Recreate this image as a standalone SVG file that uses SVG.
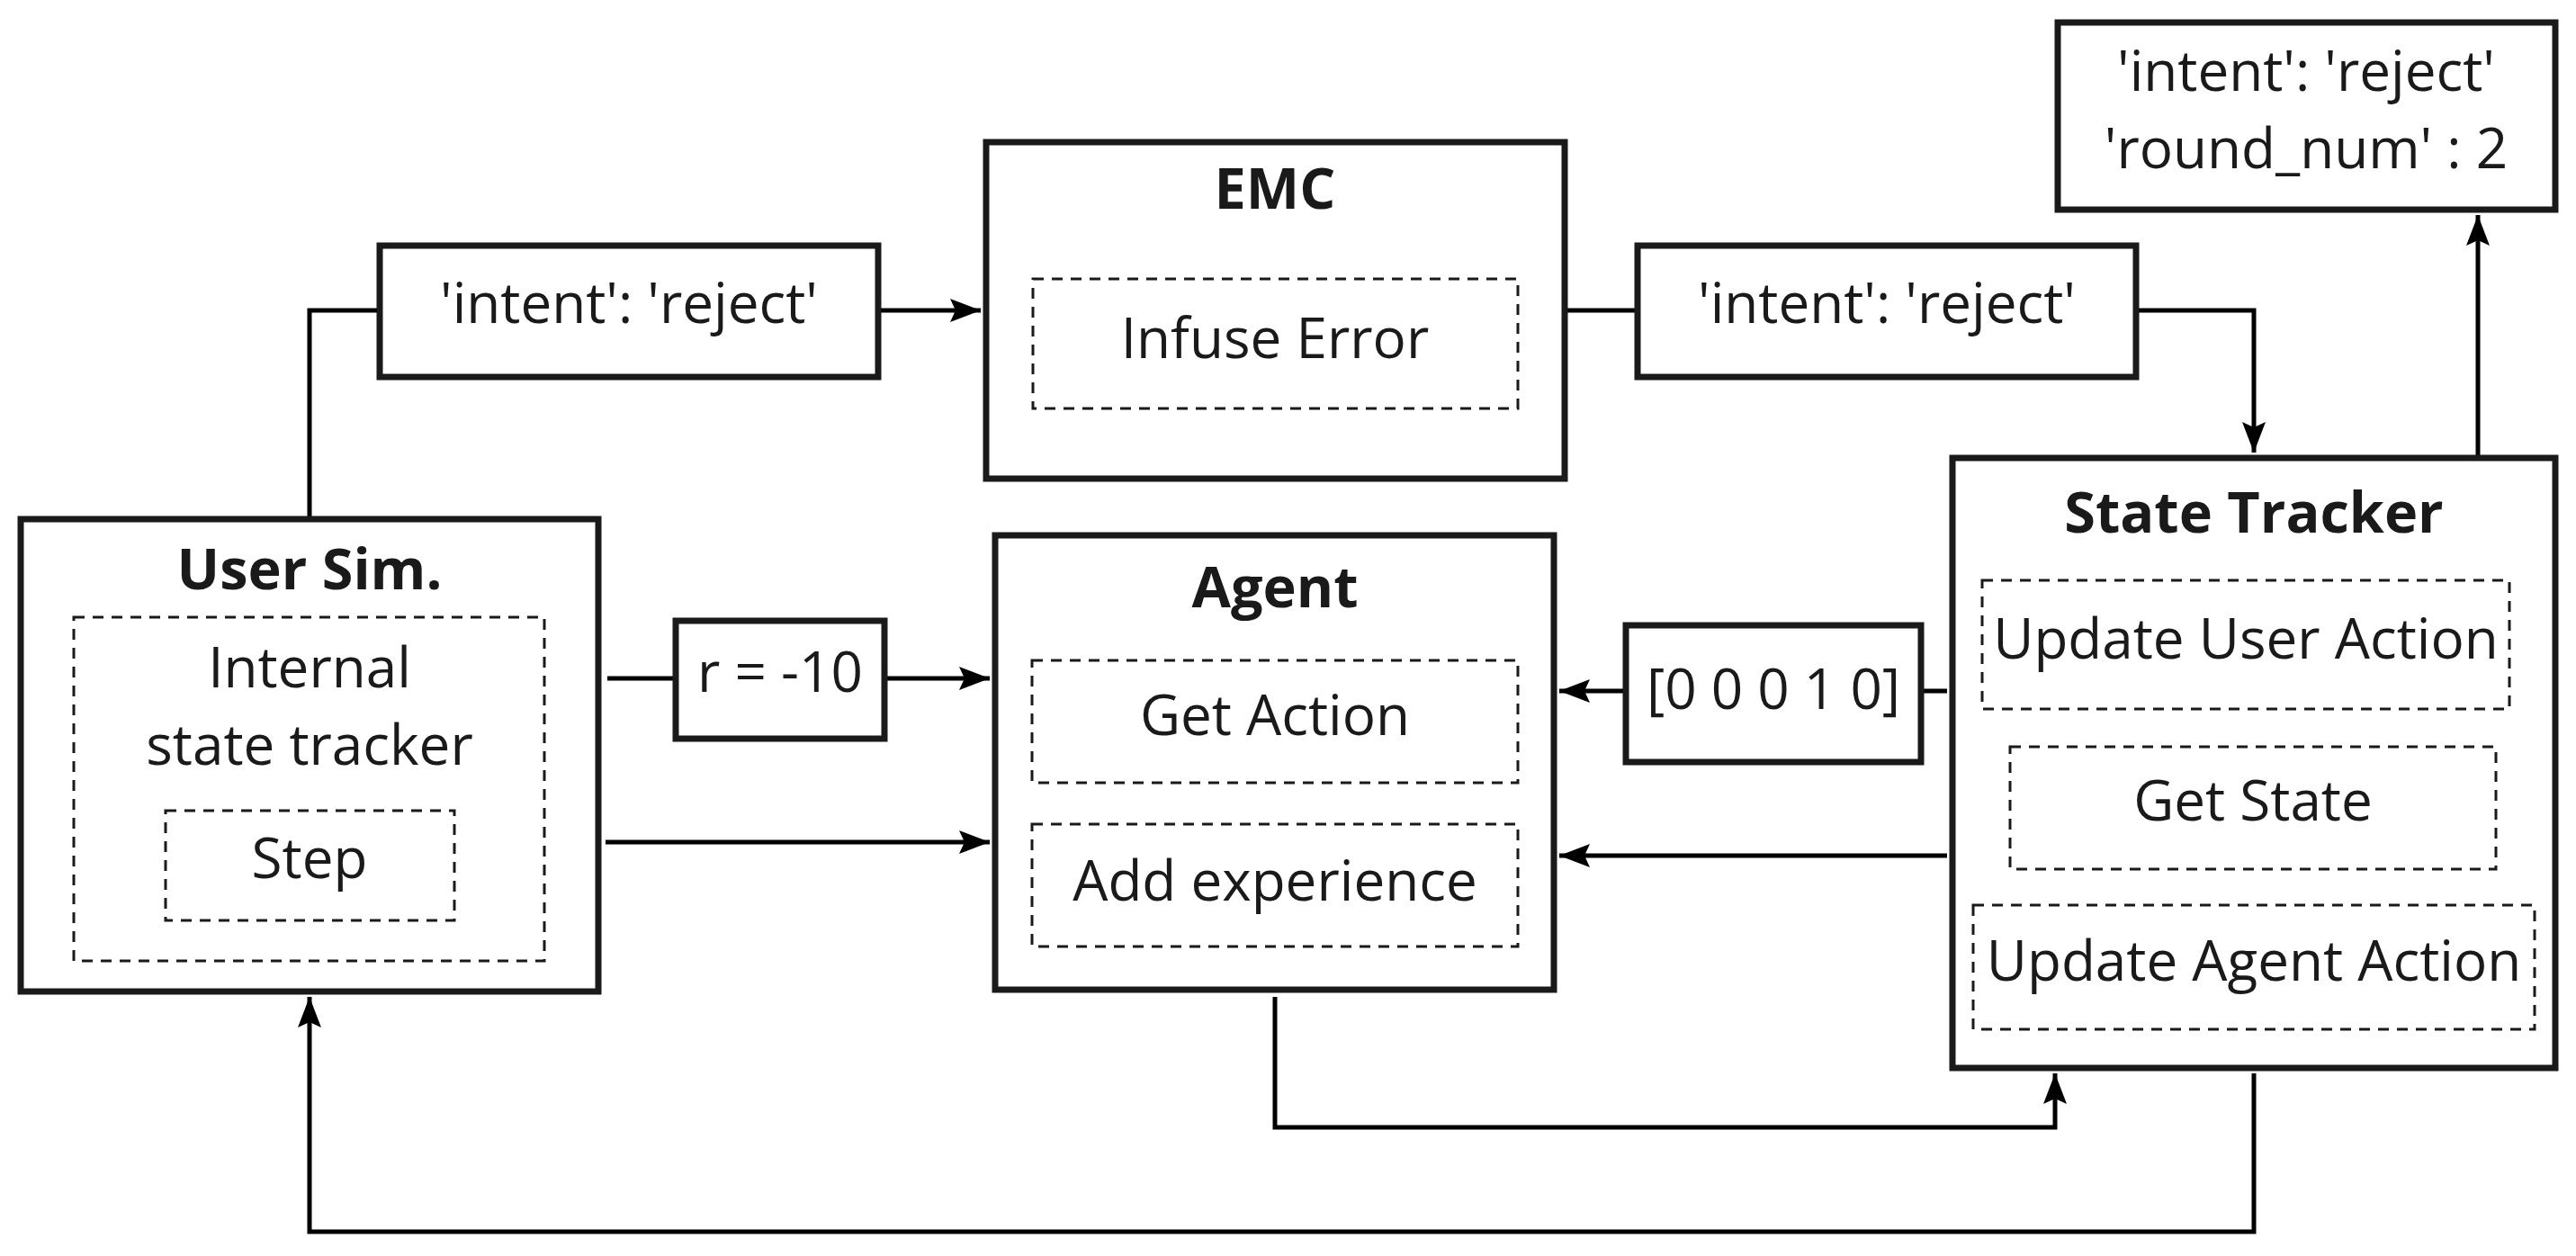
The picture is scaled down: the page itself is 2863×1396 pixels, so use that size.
<svg xmlns="http://www.w3.org/2000/svg" width="2863" height="1396" viewBox="0 0 2863 1396">
<style>
.box{fill:#fff;stroke:#1a1a1a;stroke-width:7}
.dash{fill:none;stroke:#1a1a1a;stroke-width:3;stroke-dasharray:12 9}
.conn{fill:none;stroke:#000;stroke-width:5}
text{font-family:"Open Sans","Noto Sans","DejaVu Sans",sans-serif;font-size:62px;fill:#1a1a1a;text-anchor:middle}
.title{font-weight:bold;font-size:63px}
</style>
<defs>
<marker id="arr" markerUnits="userSpaceOnUse" markerWidth="36" markerHeight="28" refX="34" refY="13" orient="auto">
<path d="M0,0 L34,13 L0,26 L6,13 z" fill="#000"/>
</marker>
</defs>
<rect width="2863" height="1396" fill="#fff"/>
<g id="connectors">
<path class="conn" d="M344,574 V345 H419"/>
<path class="conn" d="M979,345 H1090" marker-end="url(#arr)"/>
<path class="conn" d="M1742,345 H1817"/>
<path class="conn" d="M2377,345 H2505 V503" marker-end="url(#arr)"/>
<path class="conn" d="M2754,645 V239" marker-end="url(#arr)"/>
<path class="conn" d="M675,754 H748"/>
<path class="conn" d="M986,754 H1100" marker-end="url(#arr)"/>
<path class="conn" d="M673,936 H1100" marker-end="url(#arr)"/>
<path class="conn" d="M2164,768 H2138"/>
<path class="conn" d="M1804,768 H1733" marker-end="url(#arr)"/>
<path class="conn" d="M2164,951 H1733" marker-end="url(#arr)"/>
<path class="conn" d="M1417,1108 V1253 H2284 V1193" marker-end="url(#arr)"/>
<path class="conn" d="M2505,1193 V1369 H344 V1108" marker-end="url(#arr)"/>
</g>
<g id="usersim">
<rect class="box" x="23" y="577" width="642" height="525"/>
<text class="title" x="344" y="655">User Sim.</text>
<rect class="dash" x="82" y="686" width="523" height="382"/>
<text x="344" y="764">Internal</text>
<text x="344" y="850">state tracker</text>
<rect class="dash" x="184" y="901" width="321" height="122"/>
<text x="344" y="976">Step</text>
</g>
<g id="label-left">
<rect class="box" x="422" y="273" width="554" height="146"/>
<text x="699" y="359">'intent': 'reject'</text>
</g>
<g id="emc">
<rect class="box" x="1096" y="158" width="643" height="374"/>
<text class="title" x="1417" y="232">EMC</text>
<rect class="dash" x="1148" y="310" width="539" height="144"/>
<text x="1417" y="398">Infuse Error</text>
</g>
<g id="label-right">
<rect class="box" x="1820" y="273" width="554" height="146"/>
<text x="2097" y="359">'intent': 'reject'</text>
</g>
<g id="output">
<rect class="box" x="2287" y="25" width="553" height="208"/>
<text x="2563" y="101">'intent': 'reject'</text>
<text x="2563" y="187">'round_num' : 2</text>
</g>
<g id="reward">
<rect class="box" x="751" y="690" width="232" height="131"/>
<text x="867" y="769">r = -10</text>
</g>
<g id="agent">
<rect class="box" x="1106" y="595" width="621" height="505"/>
<text class="title" x="1417" y="675">Agent</text>
<rect class="dash" x="1147" y="734" width="540" height="136"/>
<text x="1417" y="817">Get Action</text>
<rect class="dash" x="1147" y="916" width="540" height="136"/>
<text x="1417" y="1001">Add experience</text>
</g>
<g id="state-vector">
<rect class="box" x="1807" y="695" width="328" height="152"/>
<text x="1971" y="788">[0 0 0 1 0]</text>
</g>
<g id="statetracker">
<rect class="box" x="2170" y="509" width="670" height="678"/>
<text class="title" x="2505" y="592">State Tracker</text>
<rect class="dash" x="2203" y="645" width="586" height="143"/>
<text x="2496" y="732">Update User Action</text>
<rect class="dash" x="2234" y="830" width="540" height="136"/>
<text x="2504" y="912">Get State</text>
<rect class="dash" x="2193" y="1006" width="624" height="138"/>
<text x="2505" y="1090">Update Agent Action</text>
</g>
</svg>
